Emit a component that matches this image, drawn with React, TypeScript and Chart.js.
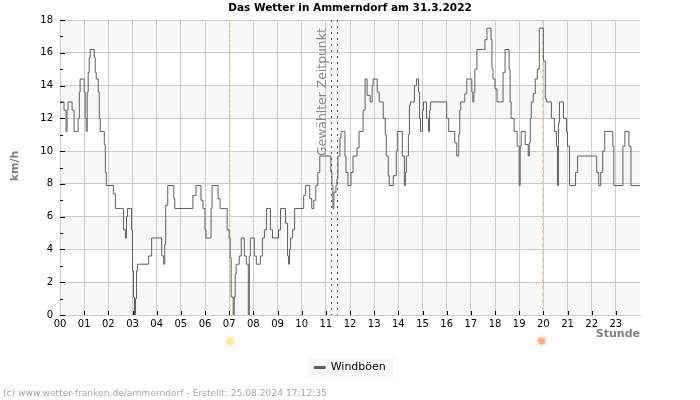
import React, { useEffect, useRef } from "react";
import { Chart, registerables } from "chart.js";

Chart.register(...registerables);

const chartTitle = "Das Wetter in Ammerndorf am 31.3.2022";
const seriesName = "Windböen";
const yTitle = "km/h";
const xTitle = "Stunde";
const selectedLabel = "Gewählter Zeitpunkt";
const footer = "(c) www.wetter-franken.de/ammerndorf - Erstellt: 25.08.2024 17:12:35";

// five-minute sample index at which the reading changes
const gustSamples = [
  0, 2, 3, 3.5, 4, 6, 7, 9, 9.6, 10, 12, 12.5, 13, 13.5, 14, 14.5, 15, 17, 17.5, 18, 19, 19.5, 20, 22, 22.5, 23,
  26.5, 27.5, 31.5, 32.5, 33, 33.5, 35.5, 36, 36.5, 37, 37.5, 38, 38.5, 44, 45.5, 50.5, 51.5, 52, 52.5, 53.5, 56.5, 57,
  66, 67.5, 70, 71, 72, 72.5, 75, 75.5, 78.5, 79.5, 83, 84, 84.5, 85, 86, 86.5, 87, 87.5, 89, 90, 91.5, 92.5, 93.5, 94,
  94.5, 96.5, 97.5, 99.5, 100.5, 101.5, 102.5, 104.5, 105.5, 108.5, 109.5, 112, 113, 113.5, 114, 114.5, 115.5, 116.5,
  121, 122, 124, 125, 126, 127, 128, 129, 134.5, 135, 135.5, 136, 137, 137.5, 138, 139, 139.5, 141.5, 142, 143, 144.5,
  145.5, 147.5, 148.5, 150.5, 151.5, 152.5, 154, 155, 155.5, 157.5, 158.5, 160.5, 161.5, 162, 163, 163.5, 165.5, 167,
  167.5, 170, 171, 171.5, 172, 173, 173.5, 174, 176, 177, 178, 178.5, 179, 180, 180.5, 182, 183, 183.5, 184, 192, 193,
  196, 197, 198, 198.5, 199, 201, 202, 204.5, 205, 205.5, 206, 207, 211, 212, 214, 214.5, 215, 216, 217, 220, 221, 223,
  223.5, 224, 225.5, 227, 228, 228.5, 229, 231, 232.5, 233, 233.5, 234, 235, 236, 237, 238, 240, 241, 241.5, 244, 245.5,
  246.5, 247, 247.5, 248, 250, 251.5, 252, 253, 256, 257, 266.5, 267.5, 268.5, 269.5, 270.5, 274.5, 275, 279.5, 280.5,
  282.5, 283.5, 288,
];
const gustValues = [
  13, 12.5, 11.2, 12.5, 13, 12.5, 11.2, 12, 13.6, 14.4, 13.6, 12, 11.2, 13.6, 14.8, 15.7, 16.2, 15.7, 14.8, 14.4, 13.6, 12, 11.2, 10.4, 8.7, 7.9,
  7.4, 6.5, 5.2, 4.7, 6, 6.5, 5.2, 2.7, 1.1, 0, 1, 2.7, 3.1, 3.6, 4.7, 3.6, 3.1, 4.3, 6.7, 7.9, 7.1, 6.5,
  7.3, 7.9, 7, 6.5, 5.2, 4.7, 6.5, 7.9, 7.1, 6.5, 5.2, 4.7, 3.5, 1.1, 0, 1.1, 2.5, 3.1, 3.6, 4.7, 3.6, 3.1, 0, 3.6,
  4.7, 3.6, 3.1, 3.6, 4.7, 5.2, 6.5, 5.2, 4.7, 5.2, 6.5, 5.6, 3.6, 3.1, 4, 4.7, 5.2, 6.5,
  7.3, 7.9, 7.1, 6.5, 7, 7.9, 8.7, 9.7, 8.7, 7.9, 6.5, 7.5, 7.9, 8.3, 9.7, 10.8, 11.2, 9.7, 8.7, 7.9, 8.7,
  9.7, 10.2, 11.2, 12.5, 14.4, 13.4, 13, 14, 14.4, 13.6, 13, 12, 11, 9.7, 8.5, 7.9, 8.5, 10,
  11.2, 9.7, 7.9, 8.7, 9.7, 11, 12.8, 13, 14, 14.4, 13.6, 12, 11.2, 12.5, 13, 12, 11.2, 12.5, 13, 12, 11.2,
  10.5, 9.7, 11, 12.5, 13, 13.5, 14.4, 13.6, 13, 13.6, 15, 16.2, 16.8, 17.5, 16.8, 15, 14.4, 13.8, 13, 14.8, 16.2, 15,
  13, 12, 11.2, 10.3, 7.9, 10.3, 11.2, 10.4, 9.7, 10.5, 12, 13, 13.5, 14.4, 15, 17.5, 15.5, 13.2, 13, 12, 11.2,
  10.3, 7.9, 11.7, 13, 12, 11.2, 10.3, 7.9, 8.7, 9.7, 8.7, 7.9, 8.7, 10, 11.2, 10.3, 7.9, 10.3, 11.2,
  10.3, 7.9, 7.9,
];
const hourLabels = ["00","01","02","03","04","05","06","07","08","09","10","11","12","13","14","15","16","17","18","19","20","21","22","23"];
const yTickValues = [0, 2, 4, 6, 8, 10, 12, 14, 16, 18];
const yMinorValues = [1, 3, 5, 7, 9, 11, 13, 15, 17];
const sunriseSample = 84.5;
const sunsetSample = 239.2;
const selectedSamples = [134.7, 137.5];

const FONT = "'DejaVu Sans'";
const PER_HOUR = 12;

const decorations = {
  id: "decorations",
  beforeDatasetsDraw(chart: any) {
    const { ctx, chartArea: a, scales: { x, y } } = chart;
    ctx.save();
    const vline = (s: number, color: string, dash: number[]) => {
      const px = Math.round(x.getPixelForValue(s)) + 0.5;
      ctx.strokeStyle = color;
      ctx.lineWidth = 1;
      ctx.setLineDash(dash);
      ctx.beginPath();
      ctx.moveTo(px, a.top);
      ctx.lineTo(px, a.bottom);
      ctx.stroke();
    };
    vline(sunriseSample, "#eeea80", [2, 3]);
    vline(sunsetSample, "#f2c88c", [3, 4]);
    selectedSamples.forEach((s) => vline(s, "#555555", [2, 4]));
    ctx.setLineDash([]);
    // inner tick marks
    ctx.strokeStyle = "#000000";
    ctx.beginPath();
    hourLabels.forEach((_, i) => {
      if (i === 0) return;
      const px = Math.round(x.getPixelForValue(i * PER_HOUR)) + 0.5;
      ctx.moveTo(px, a.bottom);
      ctx.lineTo(px, a.bottom - 4);
    });
    yTickValues.forEach((v) => {
      const py = Math.round(y.getPixelForValue(v)) + 0.5;
      ctx.moveTo(a.left, py);
      ctx.lineTo(a.left + 5, py);
    });
    yMinorValues.forEach((v) => {
      const py = Math.round(y.getPixelForValue(v)) + 0.5;
      ctx.moveTo(a.left, py);
      ctx.lineTo(a.left + 3, py);
    });
    ctx.stroke();
    // rotated label
    ctx.fillStyle = "#8a8a8a";
    ctx.font = `12.4px ${FONT}`;
    ctx.translate(x.getPixelForValue(selectedSamples[0]) - 5.5, y.getPixelForValue(9.7));
    ctx.rotate(-Math.PI / 2);
    ctx.textAlign = "left";
    ctx.textBaseline = "alphabetic";
    ctx.fillText(selectedLabel, 0, 0);
    ctx.restore();
  },
  beforeDraw(chart: any) {
    const { ctx, chartArea: a, scales: { y } } = chart;
    ctx.save();
    ctx.fillStyle = "#f8f8f8";
    for (let v = 0; v < 18; v += 4) {
      const top = y.getPixelForValue(v + 2);
      ctx.fillRect(a.left, top, a.right - a.left, y.getPixelForValue(v) - top);
    }
    ctx.fillRect(307, 358, 87, 19);
    ctx.restore();
  },
  afterDraw(chart: any) {
    const { ctx, chartArea: a, scales: { x } } = chart;
    ctx.save();
    const sun = (s: number, color: string, glow: string) => {
      const cx = x.getPixelForValue(s);
      const cy = 341;
      ctx.strokeStyle = glow;
      ctx.lineWidth = 1.2;
      ctx.beginPath();
      for (let i = 0; i < 8; i++) {
        const t = (i * Math.PI) / 4;
        ctx.moveTo(cx + Math.cos(t) * 3.5, cy + Math.sin(t) * 3.5);
        ctx.lineTo(cx + Math.cos(t) * 6.2, cy + Math.sin(t) * 6.2);
      }
      ctx.stroke();
      ctx.fillStyle = color;
      ctx.beginPath();
      ctx.arc(cx, cy, 3.8, 0, Math.PI * 2);
      ctx.fill();
    };
    sun(sunriseSample, "#fde6a0", "#fdeebb");
    sun(sunsetSample, "#fdb08f", "#fcd5c2");
    // axis titles
    ctx.fillStyle = "#808080";
    ctx.font = `bold 11px ${FONT}`;
    ctx.textAlign = "right";
    ctx.textBaseline = "middle";
    ctx.fillText(xTitle, a.right, 334.5);
    ctx.translate(15, 166);
    ctx.rotate(-Math.PI / 2);
    ctx.textAlign = "center";
    ctx.fillText(yTitle, 0, 0);
    ctx.restore();
    ctx.save();
    ctx.fillStyle = "#a8a8a8";
    ctx.font = `9.15px ${FONT}`;
    ctx.textAlign = "left";
    ctx.textBaseline = "middle";
    ctx.fillText(footer, 3, 393.5);
    ctx.restore();
  },
};

export default function App() {
  const ref = useRef<HTMLCanvasElement>(null);
  useEffect(() => {
    const chart = new Chart(ref.current as HTMLCanvasElement, {
      type: "line",
      data: {
        datasets: [
          {
            label: seriesName,
            data: gustSamples.map((s, i) => ({ x: s, y: gustValues[i] })),
            borderColor: "#5f5f5f",
            backgroundColor: "#5f5f5f",
            borderWidth: 1,
            pointRadius: 0,
            stepped: "before",
            fill: false,
            xAxisID: "x",
            yAxisID: "y",
          },
        ],
      },
      plugins: [decorations],
      options: {
        animation: false,
        responsive: false,
        devicePixelRatio: 1,
        layout: { padding: { left: 0, right: 0, top: 0, bottom: 17 } },
        plugins: {
          title: {
            display: true,
            text: chartTitle,
            color: "#000000",
            font: { family: FONT, size: 10.5, weight: "bold" },
            padding: { top: 2, bottom: 5.4 },
          },
          legend: {
            display: true,
            position: "bottom",
            labels: {
              color: "#000000",
              font: { family: FONT, size: 11 },
              boxWidth: 11,
              boxHeight: 2,
              padding: 12,
            },
          },
          tooltip: { enabled: false },
        },
        scales: {
          x: {
            type: "linear",
            min: 0,
            max: 288,
            afterFit: (s: any) => { s.height = 35; },
            afterBuildTicks: (s: any) => { s.ticks = hourLabels.map((_, i) => ({ value: i * PER_HOUR })); },
            grid: { color: "#cccccc", lineWidth: 1, drawTicks: false },
            border: { color: "#cccccc" },
            ticks: {
              autoSkip: false,
              maxRotation: 0,
              padding: 3,
              color: "#000000",
              font: { family: FONT, size: 10 },
              callback: (v: any) => hourLabels[Number(v) / PER_HOUR],
            },
          },
          y: {
            min: 0,
            max: 18,
            afterFit: (s: any) => { s.width = 60; },
            afterBuildTicks: (s: any) => { s.ticks = yTickValues.map((value) => ({ value })); },
            grid: { color: "#cccccc", lineWidth: 1, drawTicks: false },
            border: { color: "#cccccc" },
            ticks: {
              padding: 7,
              color: "#000000",
              font: { family: FONT, size: 10 },
            },
          },
          spacer: {
            type: "linear",
            position: "right",
            afterFit: (s: any) => { s.width = 60; },
            grid: { display: false, drawOnChartArea: false },
            border: { display: false },
            ticks: { display: false },
          },
        },
      } as any,
    });
    return () => chart.destroy();
  }, []);
  return (
    <canvas
      ref={ref}
      width={700}
      height={400}
      style={{ position: "absolute", left: 0, top: 0, display: "block" }}
    />
  );
}
